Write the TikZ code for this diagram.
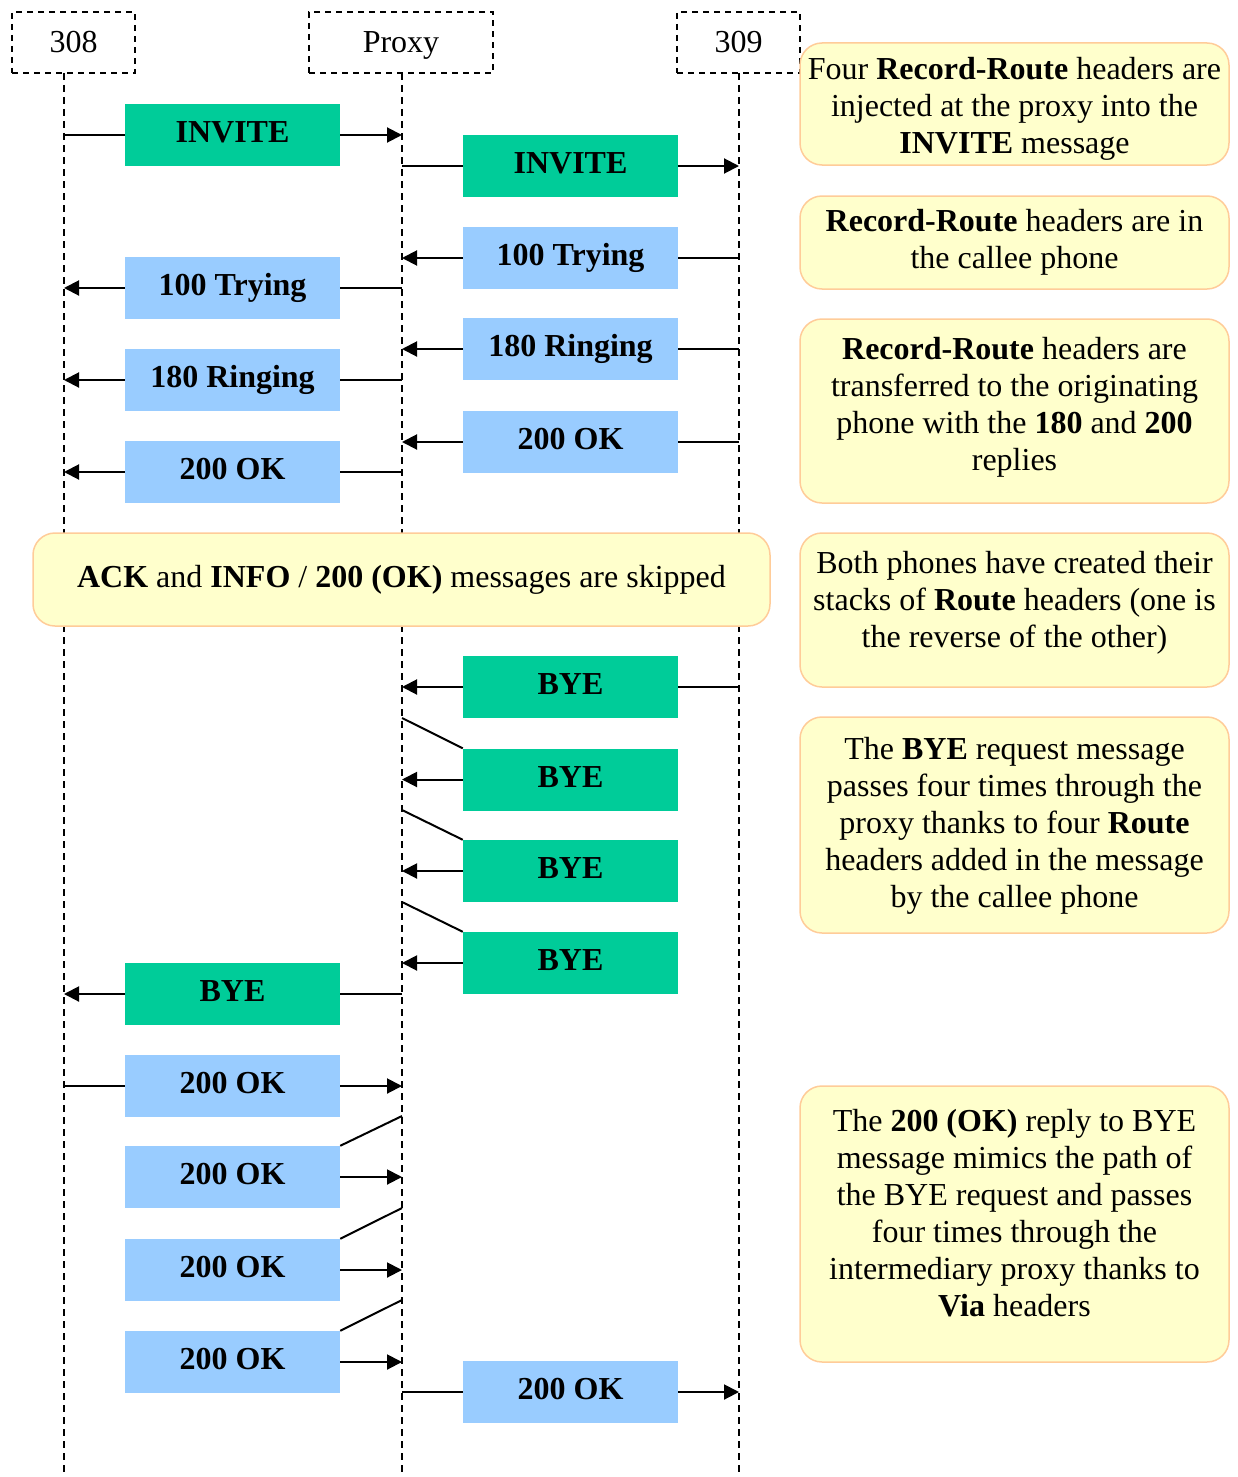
\documentclass[tikz,border=0pt]{standalone}
\usepackage{fontspec}
\setmainfont{Liberation Serif}
\usetikzlibrary{arrows.meta}
\definecolor{msggreen}{HTML}{00CC99}
\definecolor{msgblue}{HTML}{99CCFF}
\definecolor{notefill}{HTML}{FFFFCC}
\definecolor{notedraw}{HTML}{FFCC99}
\begin{document}
\begin{tikzpicture}[x=1pt,y=-1pt,
 every node/.style={font=\fontsize{32}{37}\selectfont},
 hdr/.style={draw, line width=1.5pt, dash pattern=on 6pt off 5pt, minimum height=61pt, inner sep=0pt, text height=25pt, text depth=5pt},
 msg/.style={minimum width=215pt, minimum height=62pt, inner sep=0pt, text height=22pt, text depth=7pt, font=\fontsize{32}{37}\selectfont\bfseries},
 req/.style={msg, fill=msggreen},
 rsp/.style={msg, fill=msgblue},
 notebox/.style={draw=notedraw, fill=notefill, line width=1.5pt, rounded corners=22pt, minimum width=429pt, inner sep=0pt},
 notetext/.style={align=center, inner sep=0pt},
 life/.style={line width=1.5pt, dash pattern=on 7pt off 5pt},
 conn/.style={line width=2pt},
 arr/.style={conn, -{Triangle[length=15pt,width=15pt]}},
]
\useasboundingbox (0,0) rectangle (1237,1477);
% headers
\node[hdr, minimum width=123pt] (h1) at (73.5,42.5) {308};
\node[hdr, minimum width=184pt] (h2) at (401,42.5) {Proxy};
\node[hdr, minimum width=123pt] (h3) at (738.5,42.5) {309};
% lifelines
\coordinate (l1t) at (64,73);  \coordinate (l1b) at (64,1477);
\coordinate (l2t) at (402,73); \coordinate (l2b) at (402,1477);
\coordinate (l3t) at (739,73); \coordinate (l3b) at (739,1477);
\draw[life] (l1t) -- (l1b);
\draw[life] (l2t) -- (l2b);
\draw[life] (l3t) -- (l3b);

% messages
\node[req] (m1) at (232.5,135) {INVITE};
\draw[conn] (l1t |- m1.west) -- (m1.west);
\draw[arr] (m1.east) -- (l2t |- m1.east);

\node[req] (m2) at (570.5,166) {INVITE};
\draw[conn] (l2t |- m2.west) -- (m2.west);
\draw[arr] (m2.east) -- (l3t |- m2.east);

\node[rsp] (m3) at (570.5,258) {100 Trying};
\draw[conn] (l3t |- m3.east) -- (m3.east);
\draw[arr] (m3.west) -- (l2t |- m3.west);

\node[rsp] (m4) at (232.5,288) {100 Trying};
\draw[conn] (l2t |- m4.east) -- (m4.east);
\draw[arr] (m4.west) -- (l1t |- m4.west);

\node[rsp] (m5) at (570.5,349) {180 Ringing};
\draw[conn] (l3t |- m5.east) -- (m5.east);
\draw[arr] (m5.west) -- (l2t |- m5.west);

\node[rsp] (m6) at (232.5,380) {180 Ringing};
\draw[conn] (l2t |- m6.east) -- (m6.east);
\draw[arr] (m6.west) -- (l1t |- m6.west);

\node[rsp] (m7) at (570.5,442) {200 OK};
\draw[conn] (l3t |- m7.east) -- (m7.east);
\draw[arr] (m7.west) -- (l2t |- m7.west);

\node[rsp] (m8) at (232.5,472) {200 OK};
\draw[conn] (l2t |- m8.east) -- (m8.east);
\draw[arr] (m8.west) -- (l1t |- m8.west);

% ACK note
\node[notebox, minimum width=737pt, minimum height=93pt] (ackbox) at (401.5,579.5) {};
\node[notetext] (ack) at (401.5,579.5)
 {\textbf{ACK} and \textbf{INFO} / \textbf{200 (OK)} messages are skipped};

% BYE
\node[req] (m9) at (570.5,687) {BYE};
\draw[conn] (l3t |- m9.east) -- (m9.east);
\draw[arr] (m9.west) -- (l2t |- m9.west);

\node[req] (m10) at (570.5,779.5) {BYE};
\coordinate (d10) at (402,718);
\draw[conn] (d10) -- (m10.north west);
\draw[arr] (m10.west) -- (l2t |- m10.west);

\node[req] (m11) at (570.5,871) {BYE};
\coordinate (d11) at (402,810);
\draw[conn] (d11) -- (m11.north west);
\draw[arr] (m11.west) -- (l2t |- m11.west);

\node[req] (m12) at (570.5,963) {BYE};
\coordinate (d12) at (402,902);
\draw[conn] (d12) -- (m12.north west);
\draw[arr] (m12.west) -- (l2t |- m12.west);

\node[req] (m13) at (232.5,994) {BYE};
\draw[conn] (l2t |- m13.east) -- (m13.east);
\draw[arr] (m13.west) -- (l1t |- m13.west);

% 200 OK
\node[rsp] (m14) at (232.5,1086) {200 OK};
\draw[conn] (l1t |- m14.west) -- (m14.west);
\draw[arr] (m14.east) -- (l2t |- m14.east);

\node[rsp] (m15) at (232.5,1177) {200 OK};
\coordinate (d15) at (402,1116);
\draw[conn] (m15.north east) -- (d15);
\draw[arr] (m15.east) -- (l2t |- m15.east);

\node[rsp] (m16) at (232.5,1270) {200 OK};
\coordinate (d16) at (402,1208);
\draw[conn] (m16.north east) -- (d16);
\draw[arr] (m16.east) -- (l2t |- m16.east);

\node[rsp] (m17) at (232.5,1362) {200 OK};
\coordinate (d17) at (402,1300);
\draw[conn] (m17.north east) -- (d17);
\draw[arr] (m17.east) -- (l2t |- m17.east);

\node[rsp] (m18) at (570.5,1392) {200 OK};
\draw[conn] (l2t |- m18.west) -- (m18.west);
\draw[arr] (m18.east) -- (l3t |- m18.east);

% notes
\node[notebox, minimum height=122pt] (n1box) at (1014.5,104) {};
\node[notetext] (n1) at (1014.5,109)
 {Four \textbf{Record-Route} headers are\\injected at the proxy into the\\\textbf{INVITE} message};
\node[notebox, minimum height=93pt] (n2box) at (1014.5,242.5) {};
\node[notetext] (n2) at (1014.5,242.5)
 {\textbf{Record-Route} headers are in\\the callee phone};
\node[notebox, minimum height=184pt] (n3box) at (1014.5,411) {};
\node[notetext] (n3) at (1014.5,407)
 {\textbf{Record-Route} headers are\\transferred to the originating\\phone with the \textbf{180} and \textbf{200}\\replies};
\node[notebox, minimum height=154pt] (n4box) at (1014.5,610) {};
\node[notetext] (n4) at (1014.5,603)
 {Both phones have created their\\stacks of \textbf{Route} headers (one is\\the reverse of the other)};
\node[notebox, minimum height=216pt] (n5box) at (1014.5,825) {};
\node[notetext] (n5) at (1014.5,826)
 {The \textbf{BYE} request message\\passes four times through the\\proxy thanks to four \textbf{Route}\\headers added in the message\\by the callee phone};
\node[notebox, minimum height=276pt] (n6box) at (1014.5,1224) {};
\node[notetext] (n6) at (1014.5,1213)
 {The \textbf{200 (OK)} reply to BYE\\message mimics the path of\\the BYE request and passes\\four times through the\\intermediary proxy thanks to\\\textbf{Via} headers};
\end{tikzpicture}
\end{document}
